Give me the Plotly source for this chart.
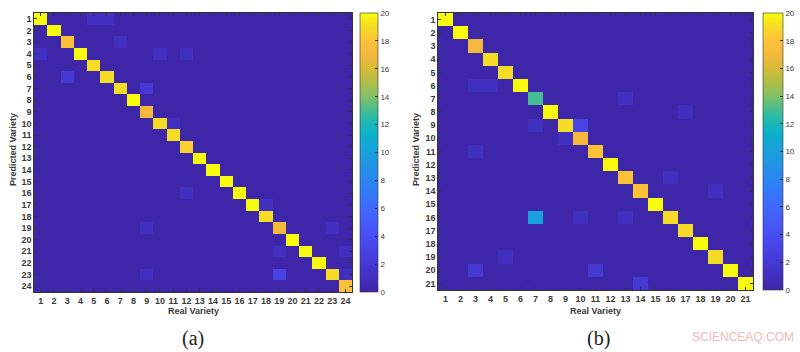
import numpy as np
import plotly.graph_objects as go

# ---------------- data ----------------
# Panel (a): 24 varieties
n_a = 24
diag_a = [20, 20, 18, 20, 19, 19, 19, 20, 17, 19, 19, 18.5,
          20, 20, 20, 20, 20, 19, 17, 20, 20, 20, 19, 18]
# (predicted row, real column, count)
off_a = [(1, 5, 1), (1, 6, 1), (3, 7, 1), (4, 1, 1), (4, 10, 1), (4, 12, 1),
         (6, 3, 2), (7, 9, 2), (10, 11, 1), (16, 12, 1), (17, 18, 1),
         (19, 9, 1), (19, 23, 1), (21, 19, 1), (21, 24, 1),
         (23, 9, 1), (23, 19, 3), (23, 24, 1)]

# Panel (b): 21 varieties
n_b = 21
diag_b = [20, 20, 17, 19, 19, 20, 13, 20, 19, 17, 18, 20,
          18, 18, 20, 19, 19, 20, 19, 20, 20]
off_b = [(6, 3, 1), (6, 4, 1), (7, 13, 1), (8, 17, 1), (9, 7, 1), (9, 10, 3),
         (10, 9, 1), (11, 3, 1), (13, 16, 1), (14, 19, 1), (16, 7, 10),
         (16, 10, 1), (16, 13, 1), (19, 5, 1), (20, 3, 2), (20, 11, 2),
         (21, 14, 2)]

cbar_ticks = [0, 2, 4, 6, 8, 10, 12, 14, 16, 18, 20]


def build(n, diag, off):
    z = np.zeros((n, n))
    for i, v in enumerate(diag):
        z[i, i] = v
    for r, c, v in off:
        z[r - 1, c - 1] = v
    return z


z_a = build(n_a, diag_a, off_a)
z_b = build(n_b, diag_b, off_b)
labels_a = list(range(1, n_a + 1))
labels_b = list(range(1, n_b + 1))

parula = [
    [0.000, "rgb(62,38,168)"],
    [0.063, "rgb(66,49,197)"],
    [0.127, "rgb(70,62,222)"],
    [0.190, "rgb(72,76,241)"],
    [0.254, "rgb(70,92,251)"],
    [0.317, "rgb(60,110,253)"],
    [0.381, "rgb(45,128,246)"],
    [0.444, "rgb(36,145,233)"],
    [0.508, "rgb(24,162,220)"],
    [0.571, "rgb(12,178,198)"],
    [0.625, "rgb(40,187,168)"],
    [0.700, "rgb(128,192,102)"],
    [0.750, "rgb(175,190,72)"],
    [0.800, "rgb(215,186,55)"],
    [0.850, "rgb(243,184,60)"],
    [0.900, "rgb(254,194,56)"],
    [0.950, "rgb(245,220,38)"],
    [1.000, "rgb(249,251,14)"],
]

FONT = "Liberation Sans, Arial, sans-serif"
tickfont = dict(family=FONT, size=9, color="#3a3a3a", weight="bold")

fig = go.Figure()

fig.add_trace(go.Heatmap(
    z=z_a, x=labels_a, y=labels_a, zmin=0, zmax=20, colorscale=parula,
    xaxis="x", yaxis="y",
    colorbar=dict(x=360 / 800, xanchor="left", y=1 - 13 / 352, yanchor="top",
                  len=279 / 352, lenmode="fraction", thickness=18, thicknessmode="pixels",
                  tickvals=cbar_ticks, ticks="inside", ticklen=3, tickcolor="#333",
                  outlinecolor="#333", outlinewidth=0.6, xpad=0, ypad=0,
                  tickfont=dict(family=FONT, size=8, color="#3a3a3a")),
))
fig.add_trace(go.Heatmap(
    z=z_b, x=labels_b, y=labels_b, zmin=0, zmax=20, colorscale=parula,
    xaxis="x2", yaxis="y2",
    colorbar=dict(x=763 / 800, xanchor="left", y=1 - 13 / 352, yanchor="top",
                  len=277 / 352, lenmode="fraction", thickness=20, thicknessmode="pixels",
                  tickvals=cbar_ticks, ticks="inside", ticklen=3, tickcolor="#333",
                  outlinecolor="#333", outlinewidth=0.6, xpad=0, ypad=0,
                  tickfont=dict(family=FONT, size=8, color="#3a3a3a")),
))

axis_common = dict(showgrid=False, zeroline=False, ticks="inside", ticklen=3,
                   tickcolor="#333", showline=True, linecolor="#333", linewidth=0.6,
                   mirror="ticks", tickfont=tickfont, tickmode="array")

fig.update_layout(
    width=800, height=352,
    margin=dict(l=0, r=0, t=0, b=0),
    paper_bgcolor="white", plot_bgcolor="white",
    xaxis=dict(domain=[34 / 800, 352 / 800], anchor="y", tickvals=labels_a,
               ticktext=[str(v) for v in labels_a], **axis_common),
    yaxis=dict(domain=[1 - 292 / 352, 1 - 13 / 352], anchor="x", autorange="reversed",
               tickvals=labels_a, ticktext=[str(v) for v in labels_a], **axis_common),
    xaxis2=dict(domain=[438 / 800, 753 / 800], anchor="y2", tickvals=labels_b,
                ticktext=[str(v) for v in labels_b], **axis_common),
    yaxis2=dict(domain=[1 - 290 / 352, 1 - 13 / 352], anchor="x2", autorange="reversed",
                tickvals=labels_b, ticktext=[str(v) for v in labels_b], **axis_common),
)

title_font = dict(family=FONT, size=9, color="#3a3a3a", weight="bold")
for xpos in (193, 595):
    fig.add_annotation(text="Real Variety", x=xpos / 800, y=1 - 311 / 352, xref="paper",
                       yref="paper", showarrow=False, font=title_font,
                       xanchor="center", yanchor="middle")
for xpos in (13, 416):
    fig.add_annotation(text="Predicted Variety", x=xpos / 800, y=1 - 150 / 352,
                       xref="paper", yref="paper", showarrow=False, textangle=-90,
                       font=title_font, xanchor="center", yanchor="middle")
for txt, xpos in (("(a)", 193), ("(b)", 598)):
    fig.add_annotation(text=txt, x=xpos / 800, y=1 - 338 / 352, xref="paper", yref="paper",
                       showarrow=False, xanchor="center", yanchor="middle",
                       font=dict(family="Liberation Serif, Times New Roman, serif",
                                 size=20, color="#222"))
fig.add_annotation(text="SCIENCEAQ.COM", x=743 / 800, y=1 - 337 / 352, xref="paper",
                   yref="paper", showarrow=False, xanchor="center", yanchor="middle",
                   font=dict(family=FONT, size=12, color="rgb(240,185,185)"))

fig.write_html("out.html")
